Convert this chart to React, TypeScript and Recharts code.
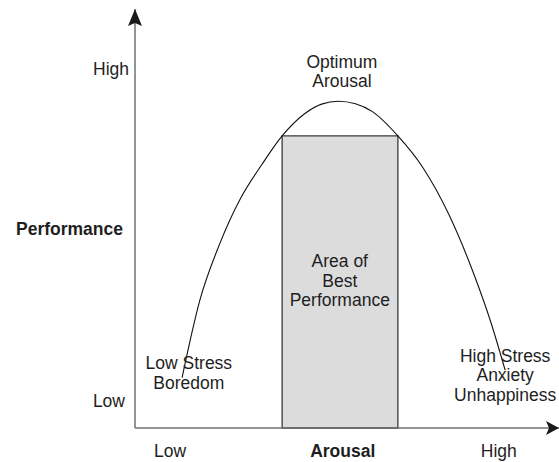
import React from 'react';
import { ComposedChart, Line, XAxis, YAxis, ReferenceArea, ReferenceDot } from 'recharts';

// Yerkes-Dodson curve (arousal 0..100, performance 0..100)
const curveArousal = [11.1, 15.3, 20, 25, 30, 34.7, 40, 44, 47.9, 52, 56, 62, 68, 74, 80, 84, 87.3];
const curvePerformance = [12, 30.5, 44, 55, 63, 69.7, 75, 77.3, 78, 77.4, 75.5, 69.7, 62, 51, 36.5, 25, 13.8];

// Area of best performance
const bestZoneArousal = [34.7, 62];
const bestZonePerformance = [0, 69.7];

// Axis labels
const xTickValues = [8.25, 49, 85.8];
const xTickLabels = ['Low', 'Arousal', 'High'];
const xTickBold = [false, true, false];
const yTickValues = [6.4, 47.5, 85.7];
const yTickLabels = ['Low', 'Performance', 'High'];
const yTickBold = [false, true, false];

// Annotations
const noteArousal = [48.8, 48.3, 12.7, 87.3];
const notePerformance = [85.1, 35.2, 13.2, 12.6];
const noteLines = [
  ['Optimum', 'Arousal'],
  ['Area of', 'Best', 'Performance'],
  ['Low Stress', 'Boredom'],
  ['High Stress', 'Anxiety', 'Unhappiness'],
];

const data = curveArousal.map((a, i) => ({ arousal: a, perf: curvePerformance[i] }));

const FONT = '"Liberation Sans", Arial, sans-serif';
const TEXT = '#1e1e1e';
const FS = 17.5;
const LH = 19.5;

const XTick = (props: any) => {
  const { x, y, payload } = props;
  const i = xTickValues.indexOf(payload.value);
  return (
    <text x={x} y={y + 23} dy="0.35em" textAnchor="middle" fontFamily={FONT} fontSize={FS}
      fontWeight={xTickBold[i] ? 'bold' : 'normal'} fill={TEXT}>
      {xTickLabels[i]}
    </text>
  );
};

const yTickShift = [-10, -12, -6];
const YTick = (props: any) => {
  const { x, y, payload } = props;
  const i = yTickValues.indexOf(payload.value);
  return (
    <text x={x + yTickShift[i]} y={y} dy="0.35em" textAnchor="end" fontFamily={FONT} fontSize={FS}
      fontWeight={yTickBold[i] ? 'bold' : 'normal'} fill={TEXT}>
      {yTickLabels[i]}
    </text>
  );
};

const makeNote = (lines: string[]) => (props: any) => {
  const { cx, cy } = props;
  const start = cy - ((lines.length - 1) * LH) / 2;
  return (
    <g>
      {lines.map((l, k) => (
        <text key={k} x={cx} y={start + k * LH} dy="0.35em" textAnchor="middle" fontFamily={FONT}
          fontSize={FS} fill={TEXT}>
          {l}
        </text>
      ))}
    </g>
  );
};

const UpArrow = (props: any) => {
  const { cx, cy } = props;
  return <path d={`M${cx},${cy} L${cx + 7},${cy + 17} L${cx},${cy + 14} L${cx - 7},${cy + 17} Z`} fill="#1a1a1a" />;
};
const RightArrow = (props: any) => {
  const { cx, cy } = props;
  return <path d={`M${cx},${cy} L${cx - 13},${cy - 7} L${cx - 10},${cy} L${cx - 13},${cy + 7} Z`} fill="#1a1a1a" />;
};

export default function App() {
  return (
    <div style={{ position: 'absolute', left: 0, top: 0, background: '#fff' }}>
      <ComposedChart width={559} height={462} data={data} margin={{ top: 9, right: 0, bottom: 0, left: 0 }}>
        <XAxis type="number" dataKey="arousal" domain={[0, 100]} ticks={xTickValues} tick={<XTick />}
          tickLine={false} tickSize={0} tickMargin={0} height={34}
          axisLine={{ stroke: '#707070', strokeWidth: 1.5 }} interval={0} />
        <YAxis type="number" domain={[0, 100]} ticks={yTickValues} tick={<YTick />}
          tickLine={false} tickSize={0} tickMargin={0} width={135}
          axisLine={{ stroke: '#707070', strokeWidth: 1.5 }} interval={0} />
        <ReferenceArea x1={bestZoneArousal[0]} x2={bestZoneArousal[1]} y1={bestZonePerformance[0]}
          y2={bestZonePerformance[1]} fill="#dcdcdc" fillOpacity={1} stroke="#3a3a3a" strokeWidth={1.3}
          ifOverflow="visible" />
        <Line type="monotone" dataKey="perf" stroke="#111" strokeWidth={1.1} dot={false}
          isAnimationActive={false} />
        {noteLines.map((lines, i) => (
          <ReferenceDot key={i} x={noteArousal[i]} y={notePerformance[i]} r={0}
            shape={makeNote(lines)} ifOverflow="visible" />
        ))}
        <ReferenceDot x={0} y={100} r={0} shape={UpArrow} ifOverflow="visible" />
        <ReferenceDot x={100} y={0} r={0} shape={RightArrow} ifOverflow="visible" />
      </ComposedChart>
    </div>
  );
}
